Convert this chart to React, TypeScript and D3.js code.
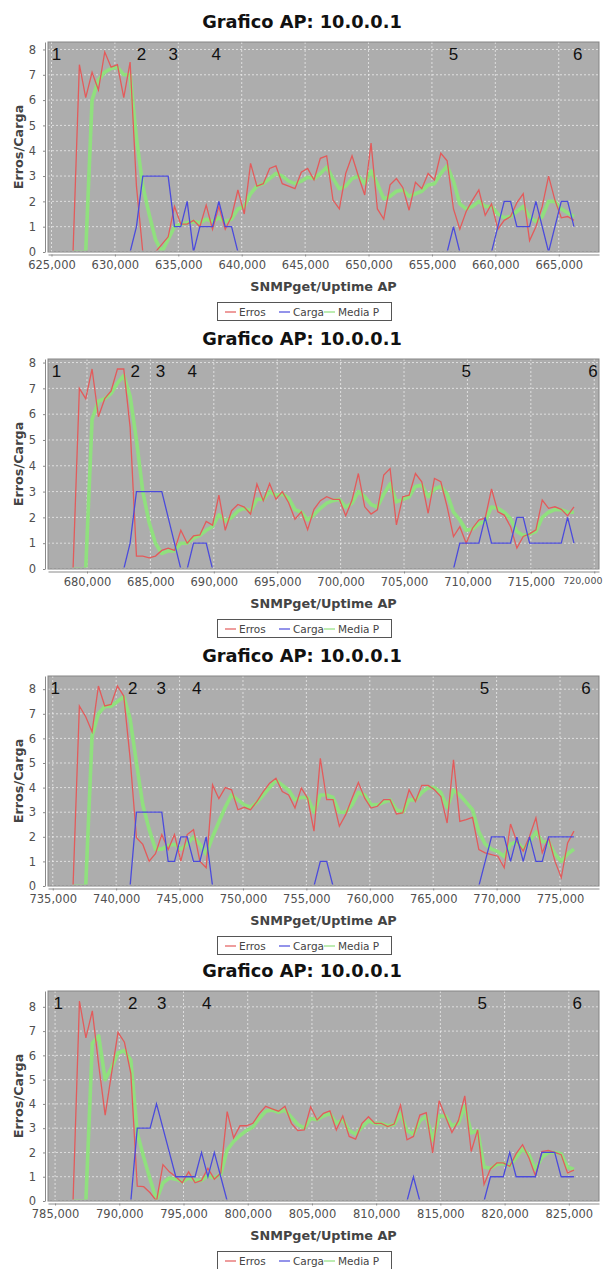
import React, { useEffect, useRef } from "react";
import * as d3 from "d3";

// uptime counter advances 500 between two SNMP gets
const step = 500;

// panel 1
const start1 = 626700;
const erros1 = [0, 7.4, 6.1, 7.1, 6.4, 7.9, 7.3, 7.4, 6.1, 7.5, 2.6, 0, 0, 0, 0.3, 0.6, 1.8, 1.1, 1.1, 1.25, 1.0, 1.85, 0.9, 1.8, 0.9, 1.4, 2.45, 1.5, 3.5, 2.6, 2.7, 3.3, 3.4, 2.7, 2.6, 2.5, 3.15, 3.3, 2.85, 3.7, 3.8, 2.05, 1.7, 3.1, 3.8, 3.0, 2.25, 4.3, 1.7, 1.3, 2.65, 2.9, 2.55, 1.65, 2.75, 2.5, 3.1, 2.85, 3.9, 3.6, 1.7, 0.9, 1.6, 2.05, 2.45, 1.45, 1.9, 0.9, 1.25, 1.4, 1.95, 2.3, 0.45, 1.0, 1.8, 3.0, 2.05, 1.35, 1.4, 1.25];
const carga1 = [0, 0, 0, 0, 0, 0, 0, 0, 0, 0, 1, 3, 3, 3, 3, 3, 1, 1, 2, 0, 1, 1, 1, 2, 1, 1, 0, 0, 0, 0, 0, 0, 0, 0, 0, 0, 0, 0, 0, 0, 0, 0, 0, 0, 0, 0, 0, 0, 0, 0, 0, 0, 0, 0, 0, 0, 0, 0, 0, 0, 1, 0, 0, 0, 0, 0, 0, 1, 2, 2, 1, 1, 1, 2, 1, 0, 1, 2, 2, 1];
const media1 = [0, 0, 0, 6.0, 6.8, 7.1, 7.25, 7.3, 7.0, 7.0, 4.5, 2.6, 1.5, 0.5, 0.0, 0.5, 1.0, 1.1, 1.15, 1.2, 1.15, 1.3, 1.2, 1.35, 1.2, 1.3, 1.7, 1.8, 2.3, 2.6, 2.7, 2.9, 3.1, 3.0, 2.8, 2.7, 2.8, 2.95, 2.9, 3.1, 3.35, 2.9, 2.5, 2.6, 2.9, 3.0, 2.7, 3.2, 2.7, 2.1, 2.2, 2.4, 2.45, 2.2, 2.3, 2.4, 2.65, 2.7, 3.1, 3.4, 2.8, 1.9, 1.7, 1.8, 2.0, 1.8, 1.8, 1.5, 1.35, 1.4, 1.6, 1.8, 1.4, 1.2, 1.4, 2.0, 2.0, 1.7, 1.55, 1.4];
const marks1 = [625400, 632100, 634600, 638000, 656700, 666500];

// panel 2
const start2 = 678900;
const erros2 = [0, 7.0, 6.6, 7.75, 5.9, 6.6, 6.9, 7.75, 7.75, 5.5, 0.5, 0.5, 0.43, 0.5, 0.72, 0.81, 0.72, 1.5, 1.0, 1.28, 1.32, 1.84, 1.7, 2.86, 1.5, 2.26, 2.5, 2.4, 2.13, 3.29, 2.65, 3.31, 2.7, 3.0, 2.57, 1.93, 2.22, 1.52, 2.31, 2.65, 2.8, 2.7, 2.7, 2.06, 2.67, 3.7, 2.41, 2.13, 2.29, 3.64, 3.89, 1.71, 2.8, 2.86, 3.7, 3.38, 2.16, 3.51, 3.38, 2.41, 1.26, 1.64, 1.0, 1.58, 1.9, 1.97, 3.1, 2.22, 2.09, 1.64, 0.81, 1.26, 1.36, 1.52, 2.67, 2.35, 2.41, 2.31, 2.06, 2.41];
const carga2 = [0, 0, 0, 0, 0, 0, 0, 0, 0, 1, 3, 3, 3, 3, 3, 2, 1, 0, 0, 1, 1, 1, 0, 0, 0, 0, 0, 0, 0, 0, 0, 0, 0, 0, 0, 0, 0, 0, 0, 0, 0, 0, 0, 0, 0, 0, 0, 0, 0, 0, 0, 0, 0, 0, 0, 0, 0, 0, 0, 0, 0, 1, 1, 1, 1, 2, 1, 1, 1, 1, 2, 2, 1, 1, 1, 1, 1, 1, 2, 1];
const media2 = [0, 0, 0, 5.8, 6.5, 6.6, 6.8, 7.2, 7.5, 6.7, 5.0, 3.0, 1.8, 1.0, 0.6, 0.7, 0.7, 1.0, 1.0, 1.2, 1.3, 1.5, 1.65, 2.1, 1.85, 2.0, 2.25, 2.35, 2.25, 2.7, 2.7, 3.0, 2.85, 2.9, 2.75, 2.3, 2.2, 1.9, 2.1, 2.35, 2.55, 2.65, 2.7, 2.4, 2.55, 3.0, 2.8, 2.5, 2.4, 2.9, 3.3, 2.6, 2.7, 2.8, 3.2, 3.25, 2.8, 3.1, 3.2, 2.9, 2.2, 1.9, 1.5, 1.55, 1.75, 1.85, 2.4, 2.35, 2.2, 1.95, 1.45, 1.3, 1.35, 1.45, 2.0, 2.2, 2.3, 2.3, 2.2, 2.2];
const marks2 = [677600, 683800, 685800, 688300, 709900, 719900];

// panel 3
const start3 = 736600;
const erros3 = [0, 7.32, 6.88, 6.27, 8.13, 7.32, 7.38, 8.13, 7.72, 5.2, 1.96, 1.69, 1.01, 1.31, 2.09, 1.48, 2.09, 1.01, 2.09, 2.29, 1.01, 0.74, 4.11, 3.55, 4.0, 3.91, 3.1, 3.2, 3.1, 3.44, 3.84, 4.18, 4.38, 3.84, 3.7, 3.17, 3.98, 3.57, 2.23, 5.19, 3.51, 3.51, 2.43, 2.9, 3.57, 4.21, 3.57, 3.17, 3.24, 3.51, 3.51, 2.93, 2.97, 3.91, 3.44, 4.09, 4.09, 3.91, 3.64, 2.56, 5.13, 2.63, 2.7, 2.79, 1.48, 1.35, 1.28, 1.21, 0.74, 2.52, 1.8, 1.42, 2.02, 2.77, 1.35, 1.96, 1.01, 0.34, 1.75, 2.23];
const carga3 = [0, 0, 0, 0, 0, 0, 0, 0, 0, 0, 3, 3, 3, 3, 3, 1, 1, 2, 2, 1, 1, 2, 0, 0, 0, 0, 0, 0, 0, 0, 0, 0, 0, 0, 0, 0, 0, 0, 0, 1, 1, 0, 0, 0, 0, 0, 0, 0, 0, 0, 0, 0, 0, 0, 0, 0, 0, 0, 0, 0, 0, 0, 0, 0, 0, 1, 2, 2, 2, 1, 2, 1, 2, 1, 1, 2, 2, 2, 2, 2];
const media3 = [0, 0, 0, 6.1, 7.0, 7.3, 7.3, 7.5, 7.7, 6.8, 5.0, 3.3, 2.3, 1.5, 1.5, 1.65, 1.7, 1.5, 1.7, 2.0, 1.7, 1.3, 2.0, 2.6, 3.2, 3.7, 3.5, 3.3, 3.2, 3.4, 3.7, 4.0, 4.3, 4.1, 3.9, 3.5, 3.6, 3.6, 3.0, 3.7, 3.7, 3.6, 3.0, 3.0, 3.3, 3.8, 3.7, 3.3, 3.3, 3.4, 3.5, 3.1, 3.0, 3.5, 3.5, 3.8, 4.0, 4.0, 3.8, 3.2, 3.9, 3.7, 3.4, 3.1, 2.2, 1.7, 1.5, 1.4, 1.2, 1.7, 1.8, 1.5, 1.8, 2.2, 1.8, 1.8, 1.3, 1.0, 1.3, 1.5];
const marks3 = [735200, 741300, 743550, 746350, 769050, 777050];

// panel 4
const start4 = 786400;
const erros4 = [0, 8.24, 6.72, 7.83, 5.6, 3.54, 5.27, 6.95, 6.54, 5.25, 0.61, 0.59, 0.34, 0, 1.5, 1.2, 1.0, 0.75, 1.2, 0.75, 0.85, 1.35, 0.9, 1.15, 3.68, 2.6, 3.1, 3.1, 3.2, 3.6, 3.9, 3.8, 3.7, 3.9, 3.2, 2.9, 2.93, 3.88, 3.34, 3.61, 3.71, 2.93, 3.5, 2.66, 2.55, 3.2, 3.47, 3.2, 3.2, 3.07, 3.17, 3.95, 2.52, 2.66, 3.54, 3.64, 1.98, 4.13, 3.47, 2.82, 3.31, 4.33, 2.04, 2.93, 0.68, 1.32, 1.57, 1.57, 1.43, 1.95, 2.32, 1.77, 1.04, 2.04, 2.08, 2.0, 1.91, 1.16, 1.27];
const carga4 = [0, 0, 0, 0, 0, 0, 0, 0, 0, 0, 3, 3, 3, 4, 3, 2, 1, 1, 1, 1, 2, 1, 2, 1, 0, 0, 0, 0, 0, 0, 0, 0, 0, 0, 0, 0, 0, 0, 0, 0, 0, 0, 0, 0, 0, 0, 0, 0, 0, 0, 0, 0, 0, 1, 0, 0, 0, 0, 0, 0, 0, 0, 0, 0, 0, 1, 1, 1, 2, 1, 1, 1, 1, 2, 2, 2, 1, 1, 1];
const media4 = [0, 0, 0, 6.5, 6.8, 5.0, 5.5, 6.1, 6.2, 5.8, 2.8, 1.8, 0.9, 0.05, 0.75, 0.95, 0.9, 0.8, 0.95, 0.85, 0.85, 1.05, 0.95, 1.1, 2.1, 2.45, 2.7, 2.9, 3.05, 3.4, 3.7, 3.75, 3.65, 3.75, 3.45, 3.15, 3.0, 3.4, 3.35, 3.5, 3.6, 3.2, 3.35, 2.9, 2.75, 3.05, 3.3, 3.2, 3.2, 3.1, 3.15, 3.6, 2.9, 2.75, 3.3, 3.5, 2.5, 3.5, 3.5, 3.1, 3.2, 3.9, 2.8, 2.9, 1.4, 1.35, 1.5, 1.55, 1.45, 1.8, 2.15, 1.9, 1.3, 1.8, 2.0, 2.0, 1.95, 1.4, 1.3];
const marks4 = [785250, 791050, 793300, 796800, 818250, 825650];

const markLabels = ["1", "2", "3", "4", "5", "6"];
const seriesNames = ["Erros", "Carga", "Media P"];
const seriesColors = ["#e35b5b", "#4b4bdc", "#90e07e"];
const title = "Grafico AP: 10.0.0.1";
const xLabel = "SNMPget/Uptime AP";
const yLabel = "Erros/Carga";

const panels = [
  { start: start1, erros: erros1, carga: carga1, media: media1, marks: marks1 },
  { start: start2, erros: erros2, carga: carga2, media: media2, marks: marks2 },
  { start: start3, erros: erros3, carga: carga3, media: media3, marks: marks3 },
  { start: start4, erros: erros4, carga: carga4, media: media4, marks: marks4 },
];

const W = 603;
const H = 1269;
const plotTops = [42, 359, 676, 991];
const plotLeft = 48;
const plotRight = 599;
const plotH = 210;
const sans = "'DejaVu Sans', Verdana, sans-serif";

export default function App() {
  const ref = useRef<SVGSVGElement>(null);

  useEffect(() => {
    const svg = d3.select(ref.current);
    svg.selectAll("*").remove();

    panels.forEach((p, idx) => {
      const top = plotTops[idx];
      const bottom = top + plotH;
      const times = p.erros.map((_, i) => p.start + i * step);
      const [t0, t1] = d3.extent(times) as [number, number];
      const pad = (t1 - t0) * 0.05;
      const x = d3.scaleLinear().domain([t0 - pad, t1 + pad]).range([plotLeft, plotRight]);
      const ymax = (d3.max([...p.erros, ...p.carga, ...p.media]) as number) * 1.05;
      const y = d3.scaleLinear().domain([0, ymax]).range([bottom, top]);

      const g = svg.append("g");

      g.append("text")
        .attr("x", 302)
        .attr("y", top - 14)
        .attr("text-anchor", "middle")
        .style("font-family", sans)
        .style("font-weight", "bold")
        .style("font-size", "17.8px")
        .attr("fill", "#111")
        .text(title);

      // plot background
      g.append("rect")
        .attr("x", plotLeft)
        .attr("y", top)
        .attr("width", plotRight - plotLeft)
        .attr("height", plotH)
        .attr("fill", "#adadad");

      // grid
      const xt = x.ticks(10);
      const yt = y.ticks(10);
      g.append("g")
        .selectAll("line")
        .data(xt)
        .enter()
        .append("line")
        .attr("x1", (d) => x(d))
        .attr("x2", (d) => x(d))
        .attr("y1", top)
        .attr("y2", bottom)
        .attr("stroke", "#f4f4f4")
        .attr("stroke-width", 0.7)
        .attr("stroke-dasharray", "2,2");
      g.append("g")
        .selectAll("line")
        .data(yt)
        .enter()
        .append("line")
        .attr("x1", plotLeft)
        .attr("x2", plotRight)
        .attr("y1", (d) => y(d))
        .attr("y2", (d) => y(d))
        .attr("stroke", "#f4f4f4")
        .attr("stroke-width", 0.7)
        .attr("stroke-dasharray", "2,2");

      const clipId = "plotclip" + idx;
      g.append("clipPath")
        .attr("id", clipId)
        .append("rect")
        .attr("x", plotLeft)
        .attr("y", top)
        .attr("width", plotRight - plotLeft)
        .attr("height", plotH - 1.6);

      const line = d3
        .line<number>()
        .x((d, i) => x(times[i]))
        .y((d) => y(d));

      const lines = g.append("g").attr("clip-path", `url(#${clipId})`);
      lines.append("path")
        .attr("d", line(p.media))
        .attr("fill", "none")
        .attr("stroke", seriesColors[2])
        .attr("stroke-width", 3.6)
        .attr("stroke-linejoin", "round");
      lines.append("path")
        .attr("d", line(p.erros))
        .attr("fill", "none")
        .attr("stroke", seriesColors[0])
        .attr("stroke-width", 1.3);
      lines.append("path")
        .attr("d", line(p.carga))
        .attr("fill", "none")
        .attr("stroke", seriesColors[1])
        .attr("stroke-width", 1.3);

      // markers 1..6
      g.append("g")
        .selectAll("text")
        .data(p.marks)
        .enter()
        .append("text")
        .attr("x", (d) => x(d))
        .attr("y", top + 18)
        .attr("text-anchor", "middle")
        .style("font-family", "'Liberation Sans', Arial, sans-serif")
        .style("font-size", "17px")
        .attr("fill", "#111")
        .text((d, i) => markLabels[i]);

      g.append("rect")
        .attr("x", plotLeft)
        .attr("y", top)
        .attr("width", plotRight - plotLeft)
        .attr("height", plotH)
        .attr("fill", "none")
        .attr("stroke", "#858585")
        .attr("stroke-width", 1);

      // axes
      const xAxis = g.append("g")
        .attr("transform", `translate(0,${bottom + 2.5})`)
        .call(
          d3.axisBottom(x)
            .ticks(10)
            .tickFormat(d3.format(",") as any)
            .tickSizeInner(2)
            .tickSizeOuter(0)
            .tickPadding(4)
        );
      const yAxis = g.append("g")
        .attr("transform", `translate(45,0)`)
        .call(d3.axisLeft(y).ticks(10).tickSizeInner(2).tickSizeOuter(0).tickPadding(7));
      [xAxis, yAxis].forEach((a) => {
        a.select(".domain").attr("stroke", "#8a8a8a");
        a.selectAll(".tick line").attr("stroke", "#8a8a8a");
        a.selectAll(".tick text")
          .attr("fill", "#505050")
          .style("font-family", sans)
          .style("font-size", "11.5px");
      });
      // a tick label that would run past the right edge: smaller, right-aligned to the page
      xAxis.selectAll<SVGTextElement, number>(".tick text").each(function (d) {
        const w = this.getComputedTextLength();
        if (x(d) + w / 2 > W - 1) {
          d3.select(this)
            .style("font-size", "9.5px")
            .attr("text-anchor", "end")
            .attr("x", W - 1 - x(d));
        }
      });

      g.append("text")
        .attr("x", (plotLeft + plotRight) / 2)
        .attr("y", bottom + 39)
        .attr("text-anchor", "middle")
        .style("font-family", sans)
        .style("font-weight", "bold")
        .style("font-size", "12.8px")
        .attr("fill", "#444")
        .text(xLabel);

      g.append("text")
        .attr("transform", `translate(23,${(top + bottom) / 2}) rotate(-90)`)
        .attr("text-anchor", "middle")
        .style("font-family", sans)
        .style("font-weight", "bold")
        .style("font-size", "12.8px")
        .attr("fill", "#444")
        .text(yLabel);

      // legend
      const ly = top + 260;
      const lg = g.append("g");
      lg.append("rect")
        .attr("x", 217.5)
        .attr("y", ly + 0.5)
        .attr("width", 174)
        .attr("height", 18)
        .attr("fill", "white")
        .attr("stroke", "#555")
        .attr("stroke-width", 1);
      const itemX = [225, 279, 324];
      seriesNames.forEach((name, i) => {
        lg.append("line")
          .attr("x1", itemX[i])
          .attr("x2", itemX[i] + 11)
          .attr("y1", ly + 10)
          .attr("y2", ly + 10)
          .attr("stroke", seriesColors[i])
          .attr("stroke-width", 1.2);
        lg.append("text")
          .attr("x", itemX[i] + 14)
          .attr("y", ly + 14)
          .style("font-family", sans)
          .style("font-size", "10.5px")
          .attr("fill", "#444")
          .text(name);
      });
    });
  }, []);

  return (
    <div style={{ position: "absolute", left: 0, top: 0, width: W, height: H, background: "white" }}>
      <svg ref={ref} width={W} height={H} style={{ display: "block" }}></svg>
    </div>
  );
}
